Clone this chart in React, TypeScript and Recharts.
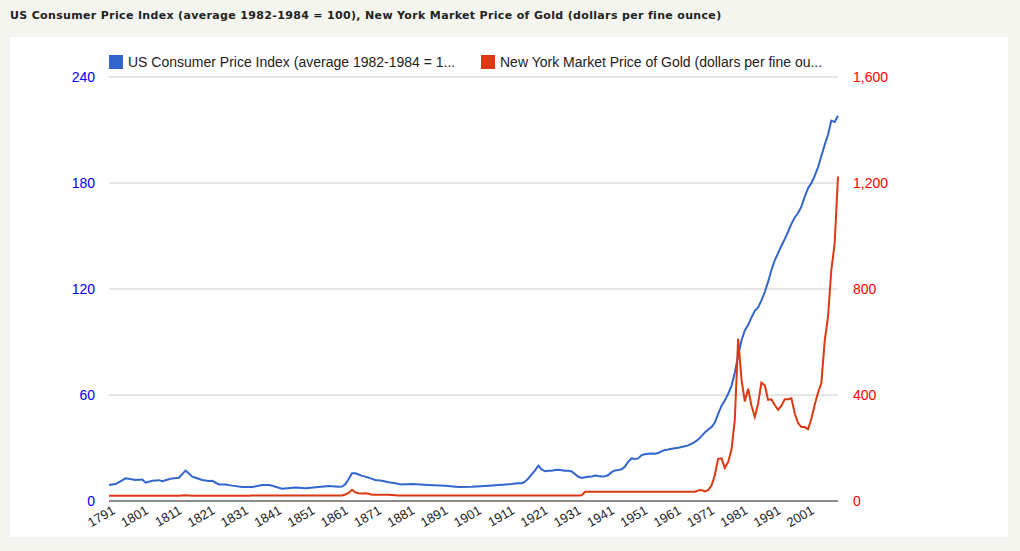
import { LineChart, Line, XAxis, YAxis, CartesianGrid } from 'recharts';

// years: sparse before 1913, yearly after
const years = [
  1791, 1793, 1796, 1799, 1801, 1802, 1804, 1806, 1807, 1809, 1810, 1812, 1814, 1815, 1816, 1817, 1819,
  1821, 1822, 1824, 1826, 1828, 1831, 1833, 1834, 1837, 1839, 1840, 1843, 1847, 1850, 1854, 1857, 1860,
  1861, 1862, 1863, 1864, 1865, 1866, 1867, 1868, 1869, 1870, 1871, 1873, 1875, 1877, 1878, 1879, 1882,
  1887, 1892, 1896, 1900, 1904, 1908, 1912,
  1913, 1914, 1915, 1916, 1917, 1918, 1919, 1920, 1921, 1922, 1923, 1924, 1925, 1926, 1927, 1928, 1929,
  1930, 1931, 1932, 1933, 1934, 1935, 1936, 1937, 1938, 1939, 1940, 1941, 1942, 1943, 1944, 1945, 1946,
  1947, 1948, 1949, 1950, 1951, 1952, 1953, 1954, 1955, 1956, 1957, 1958, 1959, 1960, 1961, 1962, 1963,
  1964, 1965, 1966, 1967, 1968, 1969, 1970, 1971, 1972, 1973, 1974, 1975, 1976, 1977, 1978, 1979, 1980,
  1981, 1982, 1983, 1984, 1985, 1986, 1987, 1988, 1989, 1990, 1991, 1992, 1993, 1994, 1995, 1996, 1997,
  1998, 1999, 2000, 2001, 2002, 2003, 2004, 2005, 2006, 2007, 2008, 2009, 2010,
];

const cpi = [
  9.0, 9.6, 12.8, 11.9, 12.2, 10.4, 11.5, 11.8, 11.2, 12.3, 12.8, 13.2, 17.2, 15.5, 13.8, 13.2, 11.9,
  11.3, 11.4, 9.4, 9.4, 8.7, 7.9, 7.9, 7.9, 9.1, 9.0, 8.6, 7.0, 7.7, 7.2, 7.9, 8.5, 8.1,
  8.2, 9.5, 12.4, 15.7, 15.7, 15.0, 14.2, 13.8, 13.2, 12.5, 11.9, 11.5, 10.6, 10.0, 9.6, 9.4, 9.6,
  9.1, 8.6, 7.9, 8.0, 8.5, 9.1, 9.6,
  9.9, 10.0, 10.1, 10.9, 12.8, 15.1, 17.3, 20.0, 17.9, 16.8, 17.1, 17.1, 17.5, 17.7, 17.4, 17.1, 17.1,
  16.7, 15.2, 13.7, 13.0, 13.4, 13.7, 13.9, 14.4, 14.1, 13.9, 14.0, 14.7, 16.3, 17.3, 17.6, 18.0, 19.5,
  22.3, 24.1, 23.8, 24.1, 26.0, 26.5, 26.7, 26.9, 26.8, 27.2, 28.1, 28.9, 29.1, 29.6, 29.9, 30.2, 30.6,
  31.0, 31.5, 32.4, 33.4, 34.8, 36.7, 38.8, 40.5, 41.8, 44.4, 49.3, 53.8, 56.9, 60.6, 65.2, 72.6, 82.4,
  90.9, 96.5, 99.6, 103.9, 107.6, 109.6, 113.6, 118.3, 124.0, 130.7, 136.2, 140.3, 144.5, 148.2, 152.4, 156.9, 160.5,
  163.0, 166.6, 172.2, 177.1, 179.9, 184.0, 188.9, 195.3, 201.6, 207.3, 215.3, 214.5, 218.1,
];

const gold = [
  19.39, 19.39, 19.39, 19.39, 19.39, 19.39, 19.39, 19.39, 19.39, 19.39, 19.39, 19.39, 21.5, 20.5, 19.39, 19.39, 19.39,
  19.39, 19.39, 19.39, 19.39, 19.39, 19.39, 19.39, 20.67, 21.2, 20.67, 20.67, 20.67, 20.67, 20.67, 20.67, 20.67, 20.67,
  20.67, 24.5, 30.6, 42.0, 32.5, 29.2, 28.6, 28.8, 27.4, 23.9, 23.2, 23.6, 23.9, 21.8, 20.9, 20.67, 20.67,
  20.67, 20.67, 20.67, 20.67, 20.67, 20.67, 20.67,
  20.67, 20.67, 20.67, 20.67, 20.67, 20.67, 20.67, 20.67, 20.67, 20.67, 20.67, 20.67, 20.67, 20.67, 20.67, 20.67, 20.67,
  20.67, 20.67, 20.67, 22.0, 35, 35, 35, 35, 35, 35, 35, 35, 35, 35, 35, 35, 35,
  35, 35, 35, 35, 35, 35, 35, 35, 35, 35, 35, 35, 35, 35, 35, 35, 35,
  35, 35, 35, 35, 39.3, 41.3, 36.0, 40.8, 58.2, 97.3, 159.3, 161.0, 124.8, 147.7, 193.2, 306.7, 612.6,
  460.0, 375.9, 424.0, 360.7, 317.3, 367.9, 446.5, 436.9, 381.4, 383.5, 362.1, 343.8, 359.8, 384.0, 384.2, 387.8, 331.0,
  294.2, 278.9, 279.1, 271.0, 310.0, 363.4, 409.7, 444.7, 603.5, 695.4, 871.9, 972.4, 1224.5,
];

const xTicks = [1791, 1801, 1811, 1821, 1831, 1841, 1851, 1861, 1871, 1881, 1891, 1901, 1911, 1921, 1931, 1941, 1951, 1961, 1971, 1981, 1991, 2001];
const leftTicks = [0, 60, 120, 180, 240];
const rightTicks = [0, 400, 800, 1200, 1600];

const cpiName = 'US Consumer Price Index (average 1982-1984 = 1...';
const goldName = 'New York Market Price of Gold (dollars per fine ou...';
const title = 'US Consumer Price Index (average 1982-1984 = 100), New York Market Price of Gold (dollars per fine ounce)';

const data = years.map((year, i) => ({ year, cpi: cpi[i], gold: gold[i] }));

const FONT = 'Arial, "Liberation Sans", sans-serif';

function YearTick({ x, y, payload }: any) {
  return (
    <g transform={`translate(${x + 7},${y + 12})`}>
      <text transform="rotate(-30)" textAnchor="end" fontSize={13} fill="#222" fontFamily={FONT}>
        {payload.value}
      </text>
    </g>
  );
}

function LegendItem({ color, label, left }: { color: string; label: string; left: number }) {
  return (
    <div style={{ position: 'absolute', left, top: 17, display: 'flex', alignItems: 'center', whiteSpace: 'nowrap' }}>
      <div style={{ width: 14, height: 14, background: color, marginRight: 5 }} />
      <span style={{ fontFamily: FONT, fontSize: 14, color: '#222' }}>{label}</span>
    </div>
  );
}

export default function App() {
  return (
    <div style={{ position: 'fixed', left: 0, top: 0, width: 1020, height: 551, background: '#f5f5f0' }}>
      <div
        style={{
          position: 'absolute',
          left: 10,
          top: 9,
          fontFamily: '"DejaVu Sans", Verdana, sans-serif',
          fontWeight: 'bold',
          fontSize: 11,
          letterSpacing: 0.34,
          color: '#222',
          whiteSpace: 'nowrap',
        }}
      >
        {title}
      </div>
      <div style={{ position: 'absolute', left: 10, top: 37, width: 998, height: 500, background: '#fff' }}>
        <LineChart width={998} height={500} data={data} margin={{ top: 40, right: 110, bottom: 0, left: 0 }}>
          <CartesianGrid yAxisId="left" vertical={false} stroke="#ccc" />
          <XAxis
            dataKey="year"
            type="number"
            domain={[1791, 2010]}
            ticks={xTicks}
            interval={0}
            height={36}
            tickSize={0}
            tickMargin={0}
            tickLine={false}
            axisLine={{ stroke: '#333', strokeWidth: 1 }}
            tick={<YearTick />}
          />
          <YAxis
            yAxisId="left"
            domain={[0, 240]}
            ticks={leftTicks}
            width={99}
            tickSize={0}
            tickMargin={14}
            tickLine={false}
            axisLine={false}
            tick={{ fill: 'blue', fontSize: 14, fontFamily: FONT }}
          />
          <YAxis
            yAxisId="right"
            orientation="right"
            domain={[0, 1600]}
            ticks={rightTicks}
            width={60}
            tickSize={0}
            tickMargin={15}
            tickLine={false}
            axisLine={false}
            tickFormatter={(v: number) => v.toLocaleString('en-US')}
            tick={{ fill: 'red', fontSize: 14, fontFamily: FONT, textAnchor: 'start' }}
          />
          <Line yAxisId="left" type="linear" dataKey="cpi" stroke="#3366cc" strokeWidth={2} dot={false} isAnimationActive={false} />
          <Line yAxisId="right" type="linear" dataKey="gold" stroke="#dc3912" strokeWidth={2} dot={false} isAnimationActive={false} />
        </LineChart>
        <LegendItem color="#3366cc" label={cpiName} left={99} />
        <LegendItem color="#dc3912" label={goldName} left={471} />
      </div>
    </div>
  );
}
